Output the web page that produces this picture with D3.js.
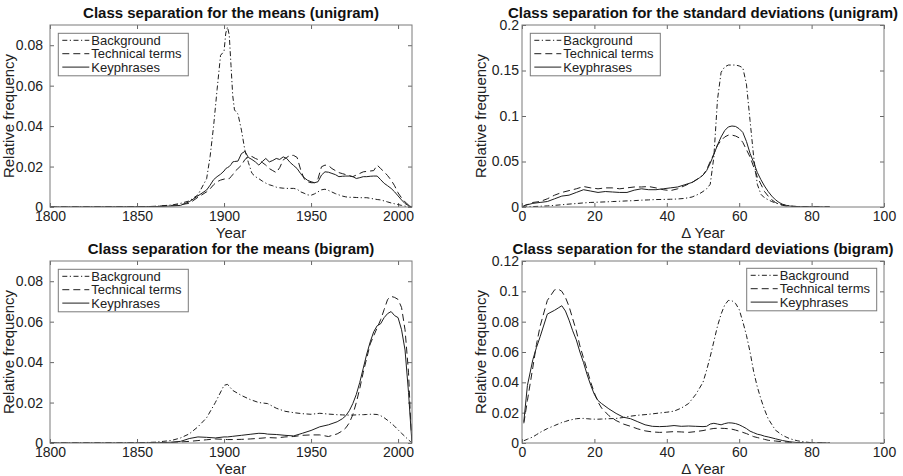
<!DOCTYPE html>
<html>
<head>
<meta charset="utf-8">
<script src="https://cdn.jsdelivr.net/npm/d3@7"></script>
<style>
  body { margin: 0; background: #fff; }
  svg { display: block; font-family: "Liberation Sans", Arial, Helvetica, sans-serif; }
</style>
</head>
<body>
<svg id="chart" width="903" height="476"></svg>
<script>
// ---- data ----
const seriesNames = ["Background", "Technical terms", "Keyphrases"];

// means, unigram
const yearsUni = [
  1800,1850,1860,1870,1875,1880,1885,1890,1892,1894,
  1896,1898,1900,1901,1902,1903,1904,1905,1906,1908,
  1910,1912,1914,1916,1918,1920,1922,1924,1926,1928,
  1930,1932,1934,1936,1938,1940,1942,1944,1946,1948,
  1950,1952,1954,1956,1958,1960,1962,1964,1966,1968,
  1970,1972,1974,1976,1978,1980,1982,1984,1986,1988,
  1990,1992,1994,1996,1998,2000,2002,2004,2006,2008];
const bgMeanUni = [
  0,0.0001,0.0003,0.001,0.0018,0.003,0.006,0.014,0.025,0.04,
  0.058,0.075,0.077,0.086,0.089,0.085,0.07,0.055,0.048,0.046,
  0.038,0.028,0.022,0.0167,0.015,0.014,0.0128,0.0118,0.011,0.0105,
  0.0098,0.0095,0.0093,0.0092,0.0092,0.0092,0.0088,0.0075,0.0068,0.006,
  0.0058,0.0065,0.0075,0.0085,0.0088,0.0082,0.0074,0.0066,0.006,0.0054,
  0.005,0.0048,0.0048,0.0047,0.0046,0.0046,0.0046,0.0043,0.004,0.0037,
  0.0035,0.003,0.0025,0.002,0.0016,0.0012,0.0008,0.0004,0.0002,0];
const techMeanUni = [
  0,0.0001,0.0003,0.0008,0.0012,0.0018,0.0048,0.0075,0.009,0.011,
  0.0125,0.0133,0.0138,0.014,0.014,0.014,0.015,0.016,0.0174,0.019,
  0.0207,0.0235,0.0248,0.025,0.024,0.0233,0.022,0.0207,0.019,0.018,
  0.017,0.0195,0.0233,0.0245,0.0256,0.0255,0.0245,0.0185,0.014,0.0125,
  0.012,0.012,0.014,0.0199,0.0207,0.0205,0.019,0.018,0.017,0.0165,
  0.016,0.0155,0.015,0.0158,0.0166,0.0174,0.0176,0.0178,0.018,0.0207,
  0.019,0.0174,0.0155,0.0133,0.0105,0.007,0.0045,0.0025,0.001,0];
const keyMeanUni = [
  0,0.0001,0.0002,0.0005,0.0008,0.0026,0.0055,0.0084,0.0108,0.0135,
  0.015,0.0162,0.0178,0.019,0.0195,0.020,0.021,0.0223,0.0225,0.0227,
  0.0264,0.0275,0.0245,0.0235,0.0223,0.0207,0.0225,0.024,0.0223,0.023,
  0.024,0.0235,0.0248,0.024,0.022,0.0205,0.019,0.0165,0.0145,0.0132,
  0.0125,0.012,0.0125,0.0158,0.0174,0.0172,0.0166,0.016,0.015,0.0152,
  0.0153,0.0153,0.015,0.0141,0.0145,0.015,0.015,0.0152,0.0153,0.0153,
  0.0135,0.0117,0.0105,0.0092,0.0075,0.0055,0.0035,0.0017,0.0007,0];

// standard deviations, unigram
const deltaUni = [
  0,1,3,5,7,9,11,13,15,17,
  19,21,23,25,27,29,31,33,35,37,
  39,41,43,45,47,49,50,51,52,53,
  54,55,56,57,58,59,60,61,62,63,
  64,65,66,67,68,69,70,71,72,73,
  74,75,77,80,85];
const bgStdUni = [
  0,0.0002,0.0005,0.0008,0.0012,0.0018,0.0025,0.0032,0.0038,0.0045,
  0.005,0.0053,0.0056,0.006,0.0063,0.0067,0.007,0.0075,0.0078,0.0082,
  0.0083,0.0085,0.0088,0.0095,0.011,0.0145,0.017,0.02,0.025,0.055,
  0.118,0.148,0.154,0.156,0.156,0.156,0.155,0.153,0.135,0.095,
  0.055,0.025,0.014,0.01,0.008,0.006,0.0045,0.0033,0.0024,0.0017,
  0.0012,0.0008,0.0004,0.0001,0];
const techStdUni = [
  0,0.002,0.005,0.006,0.009,0.013,0.016,0.018,0.02,0.0225,
  0.021,0.02,0.021,0.021,0.02,0.021,0.022,0.022,0.0225,0.021,
  0.019,0.018,0.02,0.0235,0.027,0.032,0.035,0.041,0.05,0.058,
  0.068,0.073,0.077,0.079,0.079,0.078,0.076,0.071,0.063,0.055,
  0.044,0.033,0.025,0.017,0.012,0.008,0.005,0.003,0.0018,0.001,
  0.0006,0.0004,0.0002,0,0];
const keyStdUni = [
  0,0.002,0.004,0.005,0.006,0.009,0.012,0.013,0.016,0.019,
  0.0175,0.016,0.017,0.0165,0.016,0.016,0.0185,0.02,0.019,0.019,
  0.02,0.021,0.022,0.0245,0.027,0.032,0.035,0.04,0.048,0.058,
  0.068,0.077,0.084,0.088,0.089,0.0885,0.086,0.082,0.072,0.059,
  0.049,0.038,0.03,0.023,0.017,0.012,0.008,0.005,0.003,0.0018,
  0.001,0.0007,0.0003,0.0001,0];

// means, bigram
const yearsBi = [
  1800,1850,1860,1865,1870,1875,1880,1885,1890,1895,
  1900,1902,1905,1910,1915,1920,1923,1925,1930,1935,
  1940,1945,1950,1955,1960,1965,1968,1970,1972,1974,
  1976,1978,1980,1982,1984,1986,1988,1990,1992,1994,
  1996,1998,2000,2002,2004,2006,2007,2008];
const bgMeanBi = [
  0,0.0001,0.0004,0.0008,0.0013,0.0025,0.0045,0.008,0.0125,0.02,
  0.0285,0.029,0.026,0.0235,0.0215,0.02,0.0197,0.0195,0.0172,0.0157,
  0.015,0.0145,0.0142,0.0147,0.0143,0.014,0.0139,0.0138,0.0138,0.0138,
  0.0139,0.014,0.014,0.0141,0.0142,0.0142,0.0141,0.0135,0.0125,0.0112,
  0.0098,0.0083,0.0065,0.0048,0.0032,0.0015,0.0008,0];
const techMeanBi = [
  0,0,0.0001,0.0002,0.0003,0.0005,0.0008,0.0012,0.0016,0.002,
  0.0018,0.0017,0.0017,0.0018,0.002,0.0023,0.0025,0.0027,0.0025,0.003,
  0.0032,0.0038,0.004,0.004,0.0032,0.0045,0.006,0.0075,0.010,0.014,
  0.02,0.027,0.035,0.042,0.049,0.053,0.057,0.061,0.066,0.071,
  0.0725,0.072,0.071,0.067,0.056,0.035,0.015,0];
const keyMeanBi = [
  0,0,0.0001,0.0002,0.0004,0.0008,0.0022,0.003,0.0028,0.0025,
  0.003,0.003,0.0033,0.0038,0.0043,0.0048,0.0047,0.0044,0.0042,0.0038,
  0.0035,0.0048,0.0062,0.008,0.009,0.0105,0.012,0.0135,0.016,0.0195,
  0.024,0.03,0.037,0.044,0.05,0.055,0.058,0.059,0.062,0.064,
  0.065,0.063,0.062,0.056,0.046,0.025,0.012,0];

// standard deviations, bigram
const deltaBi = [
  0.5,1.5,3,4,5,7,9,10,11,12,
  13,14,15,16,17,18,19,20,21,22,
  24,26,28,30,32,34,36,38,40,42,
  44,46,48,50,51,52,53,54,55,56,
  57,58,59,60,61,62,63,64,65,66,
  67,68,70,72,74,76,78,80,85];
const bgStdBi = [
  0.0015,0.0025,0.004,0.0055,0.007,0.0095,0.0115,0.0125,0.0135,0.0142,
  0.015,0.0155,0.016,0.0162,0.0162,0.016,0.0158,0.0157,0.0157,0.0158,
  0.016,0.0162,0.0168,0.0177,0.0183,0.0187,0.0192,0.0198,0.0203,0.021,
  0.023,0.026,0.032,0.04,0.048,0.057,0.067,0.077,0.085,0.091,
  0.094,0.0938,0.092,0.088,0.08,0.071,0.06,0.047,0.037,0.029,
  0.022,0.016,0.0085,0.005,0.0028,0.0015,0.0007,0.0002,0];
const techStdBi = [
  0.013,0.028,0.05,0.065,0.077,0.094,0.101,0.1015,0.1,0.096,
  0.09,0.082,0.074,0.064,0.056,0.048,0.04,0.033,0.027,0.023,
  0.018,0.0148,0.0125,0.011,0.0093,0.008,0.0073,0.007,0.0072,0.0075,
  0.0073,0.007,0.0075,0.0082,0.0087,0.0092,0.0096,0.0097,0.0097,0.0096,
  0.0094,0.0091,0.0085,0.0078,0.007,0.0062,0.0052,0.0042,0.0036,0.003,
  0.0024,0.0018,0.0013,0.0008,0.0004,0.0002,0.0001,0,0];
const keyStdBi = [
  0.014,0.038,0.055,0.063,0.07,0.085,0.0875,0.089,0.0905,0.087,
  0.081,0.074,0.068,0.06,0.053,0.045,0.038,0.032,0.028,0.026,
  0.0225,0.0195,0.017,0.016,0.014,0.012,0.011,0.0108,0.011,0.0115,
  0.011,0.0112,0.011,0.0108,0.011,0.0125,0.013,0.0125,0.012,0.0128,
  0.0133,0.0132,0.0128,0.012,0.0108,0.0095,0.0078,0.0068,0.0058,0.0053,
  0.0045,0.004,0.0028,0.0016,0.0008,0.0003,0.0001,0,0];

// tick labels
const yearTicks = [1800, 1850, 1900, 1950, 2000];
const deltaTicks = [0, 20, 40, 60, 80, 100];
const meanTicks = [0, 0.02, 0.04, 0.06, 0.08];
const stdUniTicks = [0, 0.05, 0.1, 0.15, 0.2];
const stdBiTicks = [0, 0.02, 0.04, 0.06, 0.08, 0.1, 0.12];

// ---- layout ----
const W = 362, H = 182;
const lineStyles = ["5,2.5,1.2,2.5", "7,4", null];

const panels = [
  { left: 50, top: 25, title: "Class separation for the means (unigram)", xLabel: "Year",
    xDomain: [1800, 2008], xTicks: yearTicks, yDomain: [0, 0.09], yTicks: meanTicks,
    xs: yearsUni, series: [bgMeanUni, techMeanUni, keyMeanUni], legend: "left", pad: 7 },
  { left: 522, top: 25, title: "Class separation for the standard deviations (unigram)", xLabel: "\u0394 Year",
    xDomain: [0, 100], xTicks: deltaTicks, yDomain: [0, 0.2], yTicks: stdUniTicks,
    xs: deltaUni, series: [bgStdUni, techStdUni, keyStdUni], legend: "left", pad: 3 },
  { left: 50, top: 261, title: "Class separation for the means (bigram)", xLabel: "Year",
    xDomain: [1800, 2008], xTicks: yearTicks, yDomain: [0, 0.09], yTicks: meanTicks,
    xs: yearsBi, series: [bgMeanBi, techMeanBi, keyMeanBi], legend: "left", pad: 7 },
  { left: 522, top: 261, title: "Class separation for the standard deviations (bigram)", xLabel: "\u0394 Year",
    xDomain: [0, 100], xTicks: deltaTicks, yDomain: [0, 0.12], yTicks: stdBiTicks,
    xs: deltaBi, series: [bgStdBi, techStdBi, keyStdBi], legend: "right", pad: 3 },
];

const svg = d3.select("#chart");
const fmtY = d3.format("~g");

panels.forEach((p, i) => {
  const g = svg.append("g").attr("transform", `translate(${p.left},${p.top})`);
  const x = d3.scaleLinear().domain(p.xDomain).range([0, W]);
  const y = d3.scaleLinear().domain(p.yDomain).range([H, 0]);

  g.append("clipPath").attr("id", "clip" + i)
    .append("rect").attr("width", W).attr("height", H);

  // axes, ticks inside, matlab style
  const styleAxis = sel => {
    sel.select(".domain").remove();
    sel.selectAll(".tick line").attr("stroke", "#666");
    sel.selectAll(".tick text").attr("font-size", 14).attr("fill", "#222")
      .attr("font-family", "Liberation Sans, Arial, sans-serif");
  };
  g.append("g").attr("transform", `translate(0,${H})`)
    .call(d3.axisBottom(x).tickValues(p.xTicks).tickSize(-4).tickSizeOuter(0)
      .tickPadding(4).tickFormat(d3.format("d")))
    .call(styleAxis);
  g.append("g")
    .call(d3.axisTop(x).tickValues(p.xTicks).tickSize(-4).tickSizeOuter(0).tickFormat(""))
    .call(styleAxis);
  g.append("g")
    .call(d3.axisLeft(y).tickValues(p.yTicks).tickSize(-4).tickSizeOuter(0)
      .tickPadding(p.pad).tickFormat(fmtY))
    .call(styleAxis);
  g.append("g").attr("transform", `translate(${W},0)`)
    .call(d3.axisRight(y).tickValues(p.yTicks).tickSize(-4).tickSizeOuter(0).tickFormat(""))
    .call(styleAxis);

  // curves
  const line = d3.line().x(d => x(d[0])).y(d => y(d[1]));
  p.series.forEach((vals, k) => {
    g.append("path")
      .datum(d3.zip(p.xs, vals))
      .attr("clip-path", `url(#clip${i})`)
      .attr("fill", "none")
      .attr("stroke", "#1e1e1e")
      .attr("stroke-width", 1)
      .attr("stroke-dasharray", lineStyles[k])
      .attr("d", line);
  });

  // frame
  g.append("rect").attr("width", W).attr("height", H)
    .attr("fill", "none").attr("stroke", "#7a7a7a").attr("stroke-width", 1);

  // legend
  const lw = 130, lh = 42.5;
  const lx = p.legend === "left" ? 8.3 : W - 7.3 - lw;
  const ly = p.legend === "left" ? 8.3 : 7.3;
  const leg = g.append("g").attr("transform", `translate(${lx},${ly})`);
  leg.append("rect").attr("width", lw).attr("height", lh)
    .attr("fill", "#fff").attr("stroke", "#7a7a7a").attr("stroke-width", 1);
  seriesNames.forEach((name, k) => {
    const cy = 7 + k * 13.4;
    leg.append("line").attr("x1", 4).attr("x2", 31).attr("y1", cy).attr("y2", cy)
      .attr("stroke", "#1e1e1e").attr("stroke-width", 1)
      .attr("stroke-dasharray", lineStyles[k]);
    leg.append("text").attr("x", 33).attr("y", cy + 4.6)
      .attr("font-size", 13).attr("fill", "#222").text(name);
  });

  // labels
  g.append("text").attr("x", W / 2).attr("y", -7)
    .attr("text-anchor", "middle").attr("font-size", 15).attr("font-weight", "bold")
    .attr("fill", "#111").text(p.title);
  g.append("text").attr("x", W / 2).attr("y", H + 31)
    .attr("text-anchor", "middle").attr("font-size", 15).attr("fill", "#222")
    .text(p.xLabel);
  g.append("text").attr("transform", `translate(-36,${H / 2}) rotate(-90)`)
    .attr("text-anchor", "middle").attr("font-size", 15).attr("fill", "#222")
    .text("Relative frequency");
});
</script>
</body>
</html>
